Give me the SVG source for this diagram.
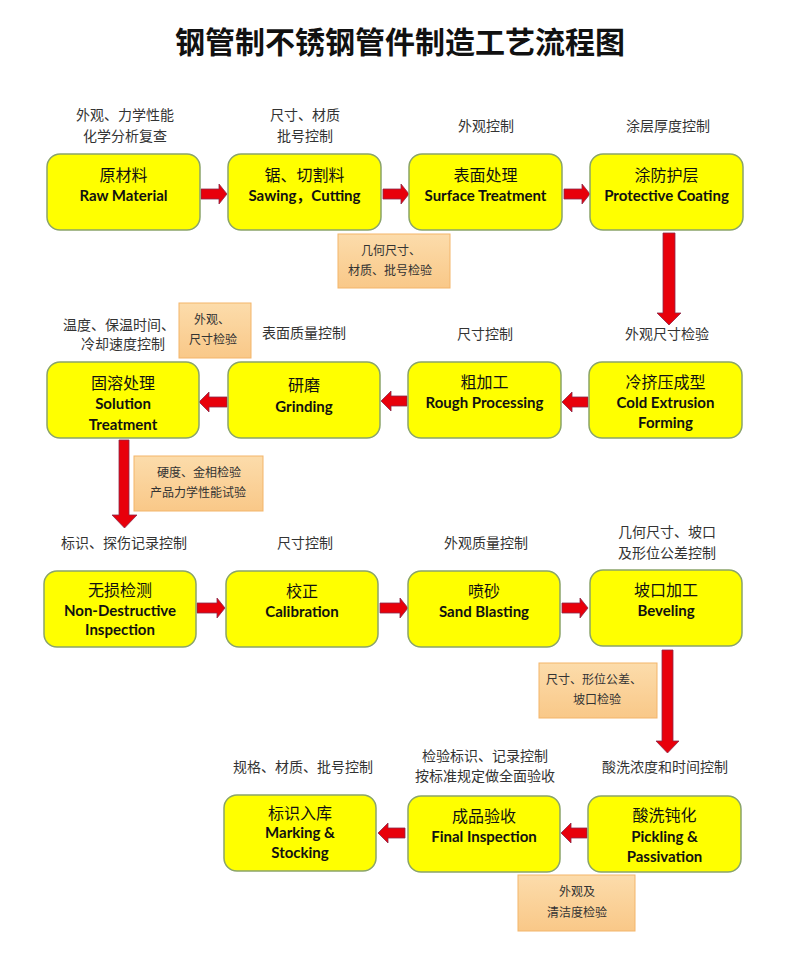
<svg xmlns="http://www.w3.org/2000/svg" width="800" height="959" viewBox="0 0 800 959">
<style>
.bg{fill:#ffffff}
.title{font-family:"Noto Sans CJK SC",sans-serif;font-size:30px;font-weight:700;fill:#111;text-anchor:middle}
.box{fill:#ffff00;stroke:#8aa46a;stroke-width:1.5}
.ob{fill:url(#og);stroke:#f3b56a;stroke-width:1}
.cn{font-family:"Noto Sans CJK SC",sans-serif;font-size:16px;fill:#111;text-anchor:middle}
.en{font-family:Lato,"Noto Sans CJK SC",sans-serif;font-size:15px;font-weight:700;fill:#111;text-anchor:middle}
.lb{font-family:"Noto Sans CJK SC",sans-serif;font-size:14px;fill:#333;text-anchor:middle}
.ot{font-family:"Noto Sans CJK SC",sans-serif;font-size:12px;fill:#333;text-anchor:middle}
.ar{fill:#e8000b;stroke:#8b2a4a;stroke-width:0.8}
</style>
<defs>
<linearGradient id="og" x1="0" y1="0" x2="0" y2="1">
<stop offset="0" stop-color="#fcdcab"/>
<stop offset="1" stop-color="#f9c888"/>
</linearGradient>
</defs>
<rect class="bg" x="0" y="0" width="800" height="959"/>
<text class="title" x="400" y="53">钢管制不锈钢管件制造工艺流程图</text>

<g id="labels">
<text class="lb" x="125" y="120">外观、力学性能</text>
<text class="lb" x="125" y="141">化学分析复查</text>
<text class="lb" x="305" y="120">尺寸、材质</text>
<text class="lb" x="305" y="141">批号控制</text>
<text class="lb" x="486" y="131">外观控制</text>
<text class="lb" x="668" y="131">涂层厚度控制</text>
<text class="lb" x="667" y="339">外观尺寸检验</text>
<text class="lb" x="485" y="339">尺寸控制</text>
<text class="lb" x="304" y="338">表面质量控制</text>
<text class="lb" x="119" y="330">温度、保温时间、</text>
<text class="lb" x="123" y="349">冷却速度控制</text>
<text class="lb" x="124" y="548">标识、探伤记录控制</text>
<text class="lb" x="305" y="548">尺寸控制</text>
<text class="lb" x="486" y="548">外观质量控制</text>
<text class="lb" x="667" y="537">几何尺寸、坡口</text>
<text class="lb" x="667" y="558">及形位公差控制</text>
<text class="lb" x="303" y="772">规格、材质、批号控制</text>
<text class="lb" x="485" y="761">检验标识、记录控制</text>
<text class="lb" x="485" y="781">按标准规定做全面验收</text>
<text class="lb" x="665" y="772">酸洗浓度和时间控制</text>
</g>

<g id="connectors">
<path class="ar" d="M201,189 H219 V184 L227,194 L219,204 V199 H201 Z"/>
<path class="ar" d="M383,189 H401 V184 L409,194 L401,204 V199 H383 Z"/>
<path class="ar" d="M564,189 H582 V184 L590,194 L582,204 V199 H564 Z"/>
<path class="ar" d="M663,233 H675 V313 H681 L669,325 L657,313 H663 Z"/>
<path class="ar" d="M588,397 H572 V392 L562,402 L572,412 V407 H588 Z"/>
<path class="ar" d="M407,396 H391 V391 L381,401 L391,411 V406 H407 Z"/>
<path class="ar" d="M227,397 H209 V392 L199,402 L209,412 V407 H227 Z"/>
<path class="ar" d="M119,440 H129 V515 H137 L124.5,528 L112,515 H119 Z"/>
<path class="ar" d="M197,603 H217 V598 L225,608 L217,618 V613 H197 Z"/>
<path class="ar" d="M380,603 H400 V598 L408,608 L400,618 V613 H380 Z"/>
<path class="ar" d="M562,603 H580 V598 L588,608 L580,618 V613 H562 Z"/>
<path class="ar" d="M662,650 H673 V741 H679 L667.5,753 L656,741 H662 Z"/>
<path class="ar" d="M587,828 H571 V823 L561,833 L571,843 V838 H587 Z"/>
<path class="ar" d="M405,828 H388 V823 L378,833 L388,843 V838 H405 Z"/>
</g>

<g id="n1"><rect class="box" x="47" y="154" width="153" height="76" rx="13"/>
<text class="cn" x="123.5" y="181">原材料</text><text class="en" x="123.5" y="201">Raw Material</text></g>
<g id="n2"><rect class="box" x="228" y="154" width="153" height="76" rx="13"/>
<text class="cn" x="304.5" y="181">锯、切割料</text><text class="en" x="304.5" y="201">Sawing，Cutting</text></g>
<g id="n3"><rect class="box" x="409" y="154" width="153" height="76" rx="13"/>
<text class="cn" x="485.5" y="181">表面处理</text><text class="en" x="485.5" y="201">Surface Treatment</text></g>
<g id="n4"><rect class="box" x="590" y="154" width="153" height="76" rx="13"/>
<text class="cn" x="666.5" y="181">涂防护层</text><text class="en" x="666.5" y="201">Protective Coating</text></g>

<g id="q1"><rect class="ob" x="338" y="234" width="112" height="54"/>
<text class="ot" x="391" y="255">几何尺寸、</text><text class="ot" x="390" y="275">材质、批号检验</text></g>

<g id="n5"><rect class="box" x="589" y="362" width="153" height="76" rx="13"/>
<text class="cn" x="665.5" y="388">冷挤压成型</text><text class="en" x="665.5" y="408">Cold Extrusion</text><text class="en" x="665.5" y="428">Forming</text></g>
<g id="n6"><rect class="box" x="408" y="362" width="153" height="76" rx="13"/>
<text class="cn" x="484.5" y="388">粗加工</text><text class="en" x="484.5" y="408">Rough Processing</text></g>
<g id="n7"><rect class="box" x="228" y="362" width="152" height="76" rx="13"/>
<text class="cn" x="304" y="391">研磨</text><text class="en" x="304" y="412">Grinding</text></g>
<g id="n8"><rect class="box" x="47" y="362" width="152" height="76" rx="13"/>
<text class="cn" x="123" y="389">固溶处理</text><text class="en" x="123" y="409">Solution</text><text class="en" x="123" y="430">Treatment</text></g>

<g id="q2"><rect class="ob" x="179" y="303" width="72" height="55"/>
<text class="ot" x="212" y="324">外观、</text><text class="ot" x="213" y="344">尺寸检验</text></g>
<g id="q3"><rect class="ob" x="134" y="456" width="129" height="55"/>
<text class="ot" x="199" y="477">硬度、金相检验</text><text class="ot" x="198" y="497">产品力学性能试验</text></g>

<g id="n9"><rect class="box" x="44" y="571" width="152" height="76" rx="13"/>
<text class="cn" x="120" y="596">无损检测</text><text class="en" x="120" y="616">Non-Destructive</text><text class="en" x="120" y="635">Inspection</text></g>
<g id="n10"><rect class="box" x="226" y="571" width="152" height="76" rx="13"/>
<text class="cn" x="302" y="597">校正</text><text class="en" x="302" y="617">Calibration</text></g>
<g id="n11"><rect class="box" x="408" y="571" width="152" height="76" rx="13"/>
<text class="cn" x="484" y="597">喷砂</text><text class="en" x="484" y="617">Sand Blasting</text></g>
<g id="n12"><rect class="box" x="590" y="570" width="152" height="76" rx="13"/>
<text class="cn" x="666" y="596">坡口加工</text><text class="en" x="666" y="616">Beveling</text></g>

<g id="q4"><rect class="ob" x="539" y="663" width="118" height="55"/>
<text class="ot" x="594" y="684">尺寸、形位公差、</text><text class="ot" x="597" y="704">坡口检验</text></g>

<g id="n13"><rect class="box" x="588" y="796" width="153" height="76" rx="13"/>
<text class="cn" x="664.5" y="821">酸洗钝化</text><text class="en" x="664.5" y="842">Pickling &amp;</text><text class="en" x="664.5" y="862">Passivation</text></g>
<g id="n14"><rect class="box" x="408" y="796" width="152" height="76" rx="13"/>
<text class="cn" x="484" y="822">成品验收</text><text class="en" x="484" y="842">Final Inspection</text></g>
<g id="n15"><rect class="box" x="224" y="795" width="152" height="76" rx="13"/>
<text class="cn" x="300" y="819">标识入库</text><text class="en" x="300" y="838">Marking &amp;</text><text class="en" x="300" y="858">Stocking</text></g>

<g id="q5"><rect class="ob" x="518" y="875" width="117" height="56"/>
<text class="ot" x="577" y="896">外观及</text><text class="ot" x="577" y="917">清洁度检验</text></g>
</svg>
